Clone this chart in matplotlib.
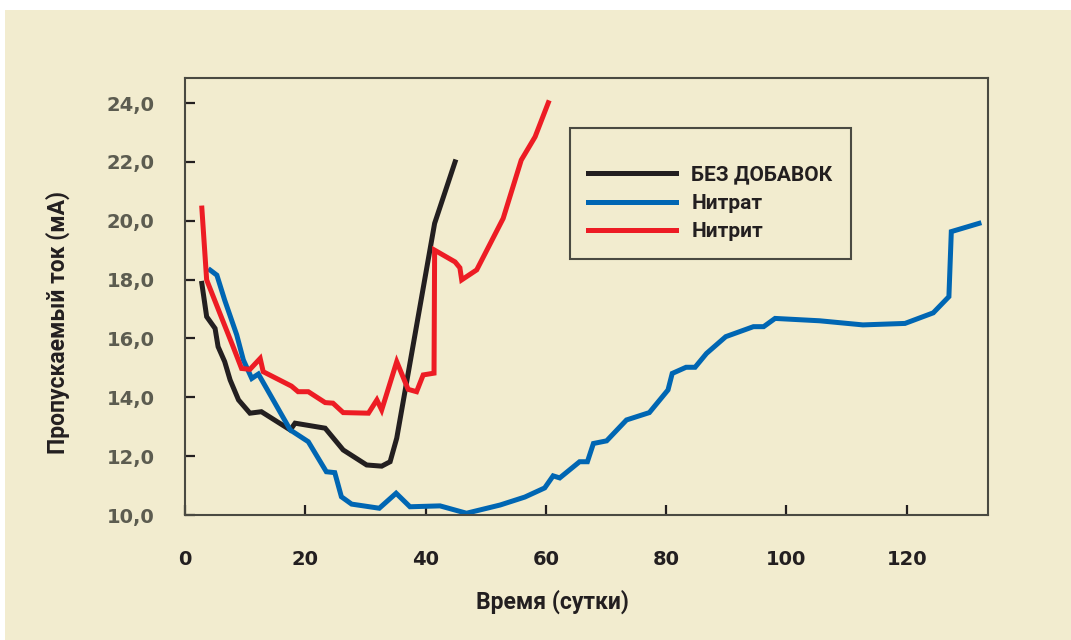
import matplotlib
matplotlib.use("Agg")
import matplotlib.pyplot as plt
from matplotlib.patches import Rectangle

# данные
black_x = [2.8, 3.6, 5.0, 5.5, 6.6, 7.5, 8.9, 10.8, 12.7, 17.5, 18.3, 23.3, 26.3, 30.2, 32.7, 34.1, 35.2, 41.5, 44.9]
black_y = [17.87, 16.74, 16.34, 15.72, 15.21, 14.59, 13.91, 13.46, 13.51, 12.89, 13.12, 12.95, 12.21, 11.70, 11.66, 11.81, 12.61, 19.91, 22.0]

blue_x = [4.2, 5.3, 6.6, 8.6, 9.7, 11.1, 12.2, 17.5, 20.5, 23.5, 24.9, 26.0, 27.7, 32.3, 35.1, 37.4, 42.4, 46.8, 49.0,
          52.4, 56.5, 59.8, 61.2, 62.3, 65.6, 66.9, 67.9, 70.1, 73.4, 77.2, 80.3, 81.0, 83.3, 84.8, 86.7, 89.9, 94.5,
          96.2, 98.1, 105.5, 112.7, 119.7, 124.4, 127.0, 127.4, 132.0]
blue_y = [18.32, 18.15, 17.30, 16.12, 15.27, 14.64, 14.79, 12.89, 12.49, 11.47, 11.44, 10.62, 10.37, 10.23, 10.74, 10.28, 10.31, 10.06, 10.17,
          10.34, 10.61, 10.92, 11.33, 11.26, 11.81, 11.81, 12.43, 12.52, 13.23, 13.48, 14.25, 14.81, 15.02, 15.02, 15.49, 16.06, 16.40,
          16.40, 16.68, 16.60, 16.46, 16.51, 16.87, 17.42, 19.63, 19.91]

red_x = [2.8, 3.6, 5.8, 8.0, 9.4, 10.8, 12.5, 13.0, 17.7, 18.8, 20.5, 23.3, 24.6, 26.3, 30.5, 31.9, 32.7, 35.2, 37.1, 38.5,
         39.6, 41.4, 41.5, 44.9, 45.7, 46.0, 48.5, 52.9, 55.9, 58.2, 60.4]
red_y = [20.43, 17.99, 16.85, 15.72, 14.98, 14.95, 15.32, 14.87, 14.38, 14.19, 14.19, 13.82, 13.80, 13.48, 13.46, 13.91, 13.57, 15.21, 14.27, 14.19,
         14.76, 14.82, 19.0, 18.6, 18.4, 17.99, 18.33, 20.08, 22.06, 22.85, 24.01]

names = ["БЕЗ ДОБАВОК", "Нитрат", "Нитрит"]
x_ticks = [0, 20, 40, 60, 80, 100, 120]
y_ticks = [10, 12, 14, 16, 18, 20, 22, 24]

bg = "#f2eccf"
dark = "#231f20"
grey = "#5c5c50"
narrow = ["Roboto", "DejaVu Sans"]

fig = plt.figure(figsize=(10.71, 6.4), dpi=100)
fig.patch.set_facecolor("white")
fig.patches.append(Rectangle((5 / 1071, 0), 1, 630 / 640, transform=fig.transFigure,
                             facecolor=bg, edgecolor="none", zorder=-10))

ax = fig.add_axes([185 / 1071, 1 - 515 / 640, (988 - 185) / 1071, (515 - 78) / 640])
ax.set_facecolor(bg)

ax.plot(black_x, black_y, color=dark, lw=3.6, label=names[0], solid_joinstyle="miter")
ax.plot(blue_x, blue_y, color="#0066b3", lw=3.6, label=names[1], solid_joinstyle="miter")
ax.plot(red_x, red_y, color="#ed1c24", lw=3.6, label=names[2], solid_joinstyle="miter")

ax.set_xlim(0, 133.5)
ax.set_ylim(10, 24.85)
ax.set_xticks(x_ticks)
ax.set_yticks(y_ticks)
ax.set_yticklabels([f"{v:.1f}".replace(".", ",") for v in y_ticks])

for s in ax.spines.values():
    s.set_color("#4a4a42")
    s.set_linewidth(1.5)

ax.tick_params(direction="in", length=7.5, width=1.6, color=dark)
ax.tick_params(axis="x", pad=25, labelsize=14, labelcolor=dark)
ax.tick_params(axis="y", pad=22, labelsize=14, labelcolor=grey)
for t in ax.get_xticklabels() + ax.get_yticklabels():
    t.set_fontweight("bold")

fig.text(552 / 1071, 1 - 602 / 640, "Время (сутки)", ha="center", va="center",
         fontsize=16.5, fontweight="bold", color=dark, family=narrow)
fig.text(58 / 1071, 1 - 323 / 640, "Пропускаемый ток (мА)", ha="center", va="center",
         rotation=90, fontsize=16.5, fontweight="bold", color=dark, family=narrow)

# пустой мелкий заголовок сдвигает строки легенды вниз, как в оригинале
leg = ax.legend(loc="upper left", bbox_to_anchor=(570 / 1071, 1 - 128 / 640),
                bbox_transform=fig.transFigure, borderaxespad=0, fancybox=False,
                handlelength=4.2, handletextpad=0.75, borderpad=0.87, labelspacing=0.45,
                title=" ", title_fontsize=8,
                prop={"family": narrow, "weight": "bold", "size": 15})
leg.get_frame().set_facecolor(bg)
leg.get_frame().set_edgecolor("#4a4a42")
leg.get_frame().set_linewidth(1.5)
leg.get_frame().set_alpha(1)
for t in leg.get_texts():
    t.set_color(dark)

fig.savefig("out.png", dpi=100, facecolor=fig.get_facecolor())
